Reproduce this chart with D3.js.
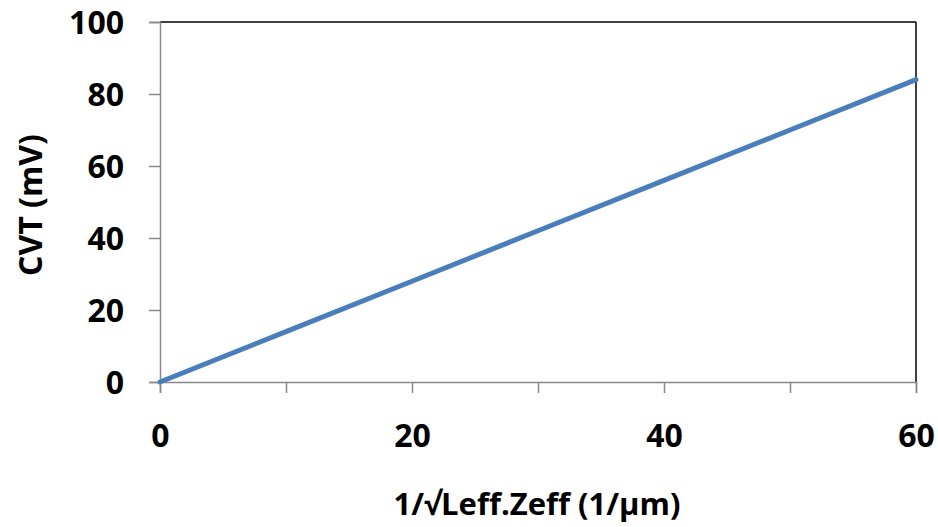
<!DOCTYPE html>
<html>
<head>
<meta charset="utf-8">
<script src="https://cdn.jsdelivr.net/npm/d3@7"></script>
<style>
  body { margin: 0; background: #fff; }
  text { font-family: "Open Sans", "Noto Sans", sans-serif; font-weight: bold; fill: #000; }
</style>
</head>
<body>
<div id="chart"></div>
<script>
// data
const xValues = [0, 10, 20, 30, 40, 50, 60];
const cvtValues = [0, 14, 28, 42, 56, 70, 84];
const xTicks = [0, 10, 20, 30, 40, 50, 60];
const xLabels = [0, 20, 40, 60];
const yTicks = [0, 20, 40, 60, 80, 100];

const W = 938, H = 527;
const margin = { top: 22, right: 22, bottom: 145, left: 160 };
const width = W - margin.left - margin.right;
const height = H - margin.top - margin.bottom;

const svg = d3.select("#chart").append("svg")
  .attr("width", W).attr("height", H);

const g = svg.append("g")
  .attr("transform", `translate(${margin.left},${margin.top})`);

const x = d3.scaleLinear().domain([0, 60]).range([0, width]);
const y = d3.scaleLinear().domain([0, 100]).range([height, 0]);

// top and right frame
g.append("line").attr("x1", 0).attr("x2", width).attr("y1", 0).attr("y2", 0)
  .attr("stroke", "#000").attr("stroke-width", 1.5);
g.append("line").attr("x1", width).attr("x2", width).attr("y1", 0).attr("y2", height)
  .attr("stroke", "#000").attr("stroke-width", 1.5);

// y axis
const yAxis = g.append("g").call(
  d3.axisLeft(y).tickValues(yTicks).tickSize(11).tickPadding(25).tickFormat(d3.format("d"))
);
yAxis.select(".domain").attr("stroke", "#888").attr("stroke-width", 1.5);
yAxis.selectAll(".tick line").attr("stroke", "#888").attr("stroke-width", 1.5);
yAxis.selectAll("text").style("font-size", "32px").attr("dy", "0.36em");

// x axis: ticks every 10, labels every 20
const xAxis = g.append("g").attr("transform", `translate(0,${height})`).call(
  d3.axisBottom(x).tickValues(xTicks).tickSize(11).tickPadding(31)
    .tickFormat(d => xLabels.includes(d) ? d : "")
);
xAxis.select(".domain").attr("stroke", "#888").attr("stroke-width", 1.5);
xAxis.selectAll(".tick line").attr("stroke", "#888").attr("stroke-width", 1.5);
xAxis.selectAll("text").style("font-size", "32px");

// line
const line = d3.line().x((d, i) => x(xValues[i])).y(d => y(d));
g.append("path").datum(cvtValues)
  .attr("fill", "none")
  .attr("stroke", "#4A7EBB")
  .attr("stroke-width", 5)
  .attr("stroke-linecap", "round")
  .attr("d", line);

// axis titles
svg.append("text")
  .attr("x", 537)
  .attr("y", 515)
  .attr("text-anchor", "middle")
  .style("font-size", "31px")
  .text("1/√Leff.Zeff (1/μm)");

svg.append("text")
  .attr("transform", `translate(42,205) rotate(-90)`)
  .attr("text-anchor", "middle")
  .style("font-size", "32px")
  .text("CVT (mV)");
</script>
</body>
</html>
